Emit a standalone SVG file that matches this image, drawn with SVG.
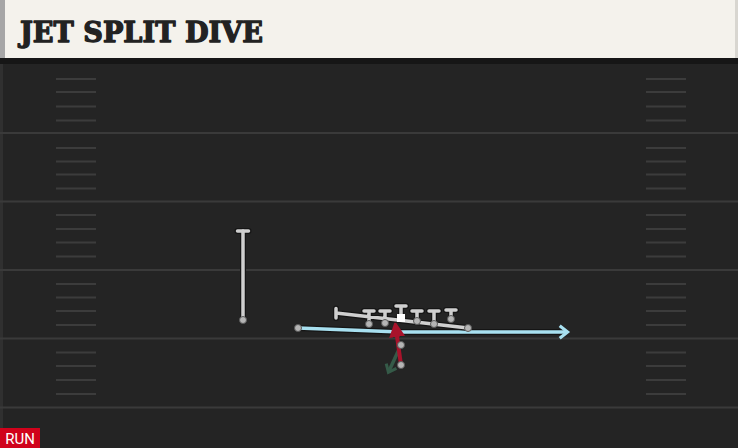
<svg xmlns="http://www.w3.org/2000/svg" width="738" height="448" viewBox="0 0 738 448">
<defs>
<style>
.yl{stroke:#3a3a3a;stroke-width:2}
.hm{stroke:#3c3c3c;stroke-width:2}
.pl{fill:none;stroke:#cfcfcf;stroke-width:3.5;stroke-linecap:round}
.plo{fill:none;stroke:#151515;stroke-width:6;stroke-linecap:round}
.dot{fill:#b5b5b5;stroke:#5a5a5a;stroke-width:1}
</style>
<marker id="ab" viewBox="0 0 10 10" refX="5" refY="5" markerWidth="4.5" markerHeight="4.5" orient="auto" markerUnits="strokeWidth">
<path d="M1,1 L6,5 L1,9" fill="none" stroke="#a8e0f0" stroke-width="2"/>
</marker>
<marker id="ar" viewBox="0 0 10 10" refX="5" refY="5" markerWidth="4" markerHeight="4" orient="auto" markerUnits="strokeWidth">
<path d="M0,0 L10,5 L0,10 Z" fill="#a8132b"/>
</marker>
<marker id="ag" viewBox="0 0 10 10" refX="5" refY="5" markerWidth="4" markerHeight="4" orient="auto" markerUnits="strokeWidth">
<path d="M1,1 L6,5 L1,9" fill="none" stroke="#355a48" stroke-width="2.2"/>
</marker>
</defs>
<rect width="738" height="448" fill="#242424"/>
<rect x="0" y="58" width="738" height="6" fill="#161616"/>
<rect x="0" y="64" width="3" height="384" fill="#303030"/>
<g id="field">
<line class="yl" x1="0" y1="133" x2="738" y2="133"/>
<line class="yl" x1="0" y1="201.5" x2="738" y2="201.5"/>
<line class="yl" x1="0" y1="270" x2="738" y2="270"/>
<line class="yl" x1="0" y1="338.5" x2="738" y2="338.5"/>
<line class="yl" x1="0" y1="407.5" x2="738" y2="407.5"/>
<g id="hash-left">
<line class="hm" x1="56" y1="79" x2="96" y2="79"/><line class="hm" x1="56" y1="92" x2="96" y2="92"/><line class="hm" x1="56" y1="106.5" x2="96" y2="106.5"/><line class="hm" x1="56" y1="120.5" x2="96" y2="120.5"/>
<line class="hm" x1="56" y1="148" x2="96" y2="148"/><line class="hm" x1="56" y1="161.5" x2="96" y2="161.5"/><line class="hm" x1="56" y1="174.5" x2="96" y2="174.5"/><line class="hm" x1="56" y1="188.5" x2="96" y2="188.5"/>
<line class="hm" x1="56" y1="215" x2="96" y2="215"/><line class="hm" x1="56" y1="229" x2="96" y2="229"/><line class="hm" x1="56" y1="242.5" x2="96" y2="242.5"/><line class="hm" x1="56" y1="256.5" x2="96" y2="256.5"/>
<line class="hm" x1="56" y1="284" x2="96" y2="284"/><line class="hm" x1="56" y1="297.5" x2="96" y2="297.5"/><line class="hm" x1="56" y1="311" x2="96" y2="311"/><line class="hm" x1="56" y1="325" x2="96" y2="325"/>
<line class="hm" x1="56" y1="352.5" x2="96" y2="352.5"/><line class="hm" x1="56" y1="366" x2="96" y2="366"/><line class="hm" x1="56" y1="380" x2="96" y2="380"/><line class="hm" x1="56" y1="394" x2="96" y2="394"/>
</g>
<g id="hash-right">
<line class="hm" x1="646" y1="79" x2="686" y2="79"/><line class="hm" x1="646" y1="92" x2="686" y2="92"/><line class="hm" x1="646" y1="106.5" x2="686" y2="106.5"/><line class="hm" x1="646" y1="120.5" x2="686" y2="120.5"/>
<line class="hm" x1="646" y1="148" x2="686" y2="148"/><line class="hm" x1="646" y1="161.5" x2="686" y2="161.5"/><line class="hm" x1="646" y1="174.5" x2="686" y2="174.5"/><line class="hm" x1="646" y1="188.5" x2="686" y2="188.5"/>
<line class="hm" x1="646" y1="215" x2="686" y2="215"/><line class="hm" x1="646" y1="229" x2="686" y2="229"/><line class="hm" x1="646" y1="242.5" x2="686" y2="242.5"/><line class="hm" x1="646" y1="256.5" x2="686" y2="256.5"/>
<line class="hm" x1="646" y1="284" x2="686" y2="284"/><line class="hm" x1="646" y1="297.5" x2="686" y2="297.5"/><line class="hm" x1="646" y1="311" x2="686" y2="311"/><line class="hm" x1="646" y1="325" x2="686" y2="325"/>
<line class="hm" x1="646" y1="352.5" x2="686" y2="352.5"/><line class="hm" x1="646" y1="366" x2="686" y2="366"/><line class="hm" x1="646" y1="380" x2="686" y2="380"/><line class="hm" x1="646" y1="394" x2="686" y2="394"/>
</g>
</g>
<g id="title">
<rect x="0" y="0" width="736" height="58" fill="#f4f2ec"/>
<rect x="0" y="0" width="5" height="58" fill="#a6a6a6"/>
<rect x="735" y="0" width="3" height="58" fill="#d8d6d0"/>
<text x="20" y="42" font-family="'DejaVu Serif', serif" font-weight="bold" font-size="27" fill="#222" stroke="#222" stroke-width="1.3" stroke-linejoin="round" textLength="243" lengthAdjust="spacingAndGlyphs">JET SPLIT DIVE</text>
</g>
<g id="connectors">
<polyline points="298,328 400,332 566,332" fill="none" stroke="#151515" stroke-width="6" stroke-linejoin="round"/>
<polyline points="298,328 400,332 566,332" fill="none" stroke="#a8e0f0" stroke-width="3.5" stroke-linejoin="round" marker-end="url(#ab)"/>
<line x1="401" y1="345" x2="389" y2="371" stroke="#355a48" stroke-width="3.5" marker-end="url(#ag)"/>
<line x1="401" y1="365" x2="396" y2="329" stroke="#a8132b" stroke-width="4" marker-end="url(#ar)"/>
</g>
<g id="wr-left">
<line class="plo" x1="243" y1="319" x2="243" y2="231"/>
<line class="plo" x1="237.5" y1="231" x2="248.5" y2="231"/>
<line class="pl" x1="243" y1="319" x2="243" y2="231"/>
<line class="pl" x1="237.5" y1="231" x2="248.5" y2="231"/>
<circle class="dot" cx="243" cy="320" r="3.5"/>
</g>
<g id="line-blocks">
<path class="plo" d="M468,328 L336,313 M336,308.5 V318 M369,324 V311 M364,311 H374 M385,323 V311 M380,311 H390 M401,318 V306 M396,306 H406 M417,321 V311 M412,311 H422 M434,324 V311 M429,311 H439 M451,319 V310 M446,310 H456"/>
<path class="pl" d="M468,328 L336,313 M336,308.5 V318 M369,324 V311 M364,311 H374 M385,323 V311 M380,311 H390 M401,318 V306 M396,306 H406 M417,321 V311 M412,311 H422 M434,324 V311 M429,311 H439 M451,319 V310 M446,310 H456"/>
</g>
<g id="players">
<circle class="dot" cx="298" cy="328" r="3.5"/>
<circle class="dot" cx="369" cy="324" r="3.5"/>
<circle class="dot" cx="385" cy="323" r="3.5"/>
<rect x="397" y="314" width="8" height="8" fill="#ffffff"/>
<circle class="dot" cx="417" cy="321" r="3.5"/>
<circle class="dot" cx="434" cy="324" r="3.5"/>
<circle class="dot" cx="451" cy="319" r="3.5"/>
<circle class="dot" cx="468" cy="328" r="3.5"/>
<circle class="dot" cx="401" cy="345" r="3.5"/>
<circle class="dot" cx="401" cy="365" r="3.5"/>
</g>
<g id="badge">
<rect x="0" y="428" width="40" height="20" fill="#d0021b"/>
<text x="20" y="444" text-anchor="middle" font-family="Roboto, 'Liberation Sans', sans-serif" font-size="15" fill="#ffffff">RUN</text>
</g>
</svg>
